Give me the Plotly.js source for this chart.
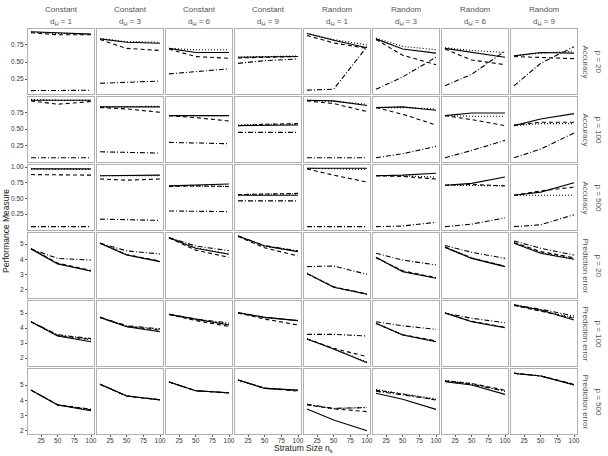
<!DOCTYPE html>
<html><head><meta charset="utf-8">
<script src="https://cdn.plot.ly/plotly-3.0.1.min.js"></script>
<style>html,body{margin:0;padding:0;background:#fff}#chart{width:608px;height:456px}</style>
</head><body><div id="chart"></div>
<script>
// ---- data ----
const nSizes = [10, 50, 100];
const designLabels = ["Constant","Constant","Constant","Constant","Random","Random","Random","Random"];
const dHValues = [1, 3, 6, 9, 1, 3, 6, 9];
const measureLabels = ["Accuracy","Accuracy","Accuracy","Prediction error","Prediction error","Prediction error"];
const pValues = [20, 100, 500, 20, 100, 500];
const xTicks = [25, 50, 75, 100];
const accTicks = [0.25, 0.50, 0.75, 1.00];
const peTicks = [2, 3, 4, 5];

// Accuracy, p = 20 (8 panels x 3 stratum sizes)
const acc20_solid   = [[0.945,0.925,0.91],[0.84,0.79,0.775],[0.70,0.64,0.64],[0.57,0.57,0.58],[0.92,0.82,0.71],[0.84,0.69,0.63],[0.70,0.64,0.57],[0.59,0.64,0.63]];
const acc20_dashed  = [[0.93,0.90,0.90],[0.83,0.70,0.67],[0.69,0.58,0.555],[0.56,0.57,0.58],[0.89,0.78,0.70],[0.83,0.60,0.46],[0.69,0.53,0.46],[0.58,0.57,0.55]];
const acc20_dotted  = [[0.94,0.92,0.91],[0.845,0.80,0.79],[0.70,0.68,0.68],[0.57,0.58,0.59],[0.92,0.83,0.75],[0.85,0.73,0.68],[0.71,0.67,0.64],[0.59,0.63,0.66]];
const acc20_dashdot = [[0.08,0.08,0.085],[0.187,0.205,0.22],[0.325,0.36,0.40],[0.48,0.52,0.545],[0.087,0.10,0.725],[0.10,0.28,0.57],[0.15,0.32,0.66],[0.15,0.48,0.725]];
// Accuracy, p = 100
const acc100_solid   = [[0.93,0.93,0.93],[0.83,0.83,0.83],[0.70,0.70,0.70],[0.55,0.555,0.56],[0.93,0.92,0.85],[0.82,0.83,0.78],[0.70,0.74,0.74],[0.55,0.65,0.73]];
const acc100_dashed  = [[0.92,0.87,0.91],[0.82,0.80,0.75],[0.70,0.67,0.62],[0.55,0.57,0.58],[0.92,0.88,0.76],[0.82,0.72,0.56],[0.70,0.64,0.55],[0.56,0.60,0.60]];
const acc100_dotted  = [[0.94,0.93,0.93],[0.83,0.83,0.84],[0.70,0.70,0.70],[0.56,0.57,0.57],[0.93,0.91,0.87],[0.82,0.82,0.80],[0.70,0.69,0.69],[0.55,0.58,0.58]];
const acc100_dashdot = [[0.07,0.07,0.07],[0.16,0.15,0.14],[0.30,0.29,0.28],[0.45,0.45,0.45],[0.07,0.07,0.07],[0.07,0.13,0.24],[0.07,0.18,0.33],[0.07,0.20,0.44]];
// Accuracy, p = 500
const acc500_solid   = [[0.97,0.97,0.97],[0.86,0.86,0.87],[0.70,0.71,0.73],[0.55,0.55,0.55],[0.98,0.98,0.98],[0.86,0.87,0.90],[0.71,0.74,0.84],[0.55,0.60,0.75]];
const acc500_dashed  = [[0.88,0.88,0.87],[0.81,0.79,0.81],[0.69,0.70,0.69],[0.56,0.57,0.58],[0.97,0.87,0.76],[0.86,0.85,0.81],[0.71,0.72,0.70],[0.55,0.62,0.68]];
const acc500_dotted  = [[0.97,0.97,0.96],[0.86,0.86,0.86],[0.70,0.70,0.69],[0.56,0.57,0.57],[0.98,0.97,0.96],[0.86,0.86,0.84],[0.71,0.71,0.70],[0.55,0.55,0.55]];
const acc500_dashdot = [[0.05,0.05,0.05],[0.17,0.16,0.15],[0.30,0.30,0.29],[0.46,0.46,0.46],[0.05,0.05,0.05],[0.05,0.06,0.12],[0.05,0.09,0.19],[0.05,0.08,0.24]];
// Prediction error, p = 20
const pe20_solid   = [[4.67,3.70,3.24],[5.05,4.28,3.85],[5.41,4.72,4.33],[5.52,4.87,4.50],[3.08,2.17,1.71],[4.13,3.19,2.76],[4.78,4.06,3.52],[5.05,4.39,4.00]];
const pe20_dashed  = [[4.70,3.75,3.27],[5.05,4.30,3.88],[5.40,4.60,4.13],[5.50,4.75,4.22],[3.05,2.20,1.74],[4.10,3.25,2.80],[4.80,4.08,3.55],[5.10,4.50,4.10]];
const pe20_dotted  = [[4.68,3.72,3.22],[5.06,4.32,3.87],[5.42,4.75,4.35],[5.50,4.85,4.52],[3.10,2.18,1.72],[4.12,3.22,2.78],[4.80,4.10,3.55],[5.08,4.45,4.05]];
const pe20_dashdot = [[4.67,4.06,3.95],[5.05,4.55,4.35],[5.42,4.87,4.56],[5.53,4.90,4.55],[3.52,3.56,3.02],[4.39,3.95,3.63],[4.90,4.46,4.06],[5.20,4.72,4.28]];
// Prediction error, p = 100
const pe100_solid   = [[4.42,3.47,3.09],[4.71,4.09,3.75],[4.91,4.58,4.20],[5.02,4.71,4.49],[3.27,2.60,1.69],[4.31,3.53,3.09],[5.00,4.42,4.02],[5.53,5.20,4.53]];
const pe100_dashed  = [[4.42,3.50,3.25],[4.70,4.10,3.85],[4.90,4.50,4.10],[5.00,4.60,4.20],[3.27,2.65,2.09],[4.30,3.55,3.15],[5.00,4.45,4.05],[5.50,5.10,4.65]];
const pe100_dotted  = [[4.42,3.48,3.20],[4.71,4.12,3.90],[4.92,4.55,4.25],[5.02,4.70,4.50],[3.28,2.62,1.75],[4.32,3.55,3.12],[5.00,4.43,4.05],[5.52,5.15,4.70]];
const pe100_dashdot = [[4.42,3.55,3.30],[4.72,4.15,3.95],[4.92,4.60,4.33],[5.02,4.72,4.50],[3.58,3.58,3.47],[4.42,4.15,3.91],[5.00,4.65,4.35],[5.55,5.25,4.80]];
// Prediction error, p = 500
const pe500_solid   = [[4.67,3.69,3.32],[5.05,4.28,4.02],[5.20,4.63,4.50],[5.33,4.78,4.67],[3.43,2.72,2.01],[4.46,4.07,3.41],[5.22,5.00,4.39],[5.76,5.59,5.00]];
const pe500_dashed  = [[4.67,3.72,3.42],[5.05,4.28,4.05],[5.20,4.63,4.48],[5.33,4.80,4.60],[3.70,3.45,3.26],[4.67,4.41,4.02],[5.28,5.10,4.67],[5.78,5.60,5.05]];
const pe500_dotted  = [[4.68,3.70,3.40],[5.06,4.29,4.04],[5.21,4.64,4.50],[5.34,4.79,4.65],[3.72,3.45,3.55],[4.70,4.45,4.10],[5.30,5.10,4.60],[5.77,5.60,5.02]];
const pe500_dashdot = [[4.67,3.70,3.38],[5.05,4.29,4.03],[5.20,4.63,4.49],[5.33,4.79,4.66],[3.74,3.48,3.52],[4.60,4.35,4.05],[5.25,5.05,4.60],[5.77,5.60,5.03]];

// ---- assembly ----
const rowsData = [
  [acc20_solid, acc20_dashed, acc20_dotted, acc20_dashdot],
  [acc100_solid, acc100_dashed, acc100_dotted, acc100_dashdot],
  [acc500_solid, acc500_dashed, acc500_dotted, acc500_dashdot],
  [pe20_solid, pe20_dashed, pe20_dotted, pe20_dashdot],
  [pe100_solid, pe100_dashed, pe100_dotted, pe100_dashdot],
  [pe500_solid, pe500_dashed, pe500_dotted, pe500_dashdot]
];
const dashStyles = ["solid", "4px,3px", "1px,2px", "5px,2px,1px,2px"];
const yRanges = [[0.03,0.985],[0.007,0.978],[-0.003,1.032],[1.47,5.72],[1.47,5.8],[1.8,6.05]];

const W = 608, H = 456;
const x0 = 28, xPitch = 69, pw = 66;
const y0 = 29, yPitch = 68, ph = 65;
const FONT = 'Liberation Sans, Arial, sans-serif';

const traces = [];
const layout = {
  width: W, height: H,
  margin: {l:0, r:0, t:0, b:0},
  paper_bgcolor: '#fff', plot_bgcolor: '#fff',
  showlegend: false,
  font: {family: FONT, color: '#333', size: 8},
  annotations: []
};

const frameColor = '#b0b0b0';
for (let r = 0; r < 6; r++) {
  for (let c = 0; c < 8; c++) {
    const idx = r * 8 + c + 1;
    const xa = 'xaxis' + (idx === 1 ? '' : idx);
    const ya = 'yaxis' + (idx === 1 ? '' : idx);
    const xr = 'x' + (idx === 1 ? '' : idx);
    const yr = 'y' + (idx === 1 ? '' : idx);
    const isAcc = r < 3;
    layout[xa] = {
      domain: [(x0 + xPitch * c) / W, (x0 + xPitch * c + pw) / W],
      anchor: yr, range: [5.5, 104.5],
      showline: true, mirror: true, linecolor: frameColor, linewidth: 1,
      showgrid: false, zeroline: false,
      tickvals: xTicks, ticktext: xTicks.map(String),
      ticks: r === 5 ? 'outside' : '', ticklen: 2, tickcolor: '#333', tickwidth: 0.8,
      showticklabels: r === 5, ticklabelstandoff: -2,
      tickfont: {size: 6.5, color: '#333', family: FONT}
    };
    const top = y0 + yPitch * r;
    const yt = isAcc ? accTicks : peTicks;
    layout[ya] = {
      domain: [1 - (top + ph) / H, 1 - top / H],
      anchor: xr, range: yRanges[r],
      showline: true, mirror: true, linecolor: frameColor, linewidth: 1,
      showgrid: false, zeroline: false,
      tickvals: yt, ticktext: yt.map(v => isAcc ? v.toFixed(2) : String(v)),
      ticks: c === 0 ? 'outside' : '', ticklen: 2, tickcolor: '#333', tickwidth: 0.8,
      showticklabels: c === 0,
      tickfont: {size: 6.5, color: '#333', family: FONT}
    };
    for (let s = 0; s < 4; s++) {
      traces.push({
        type: 'scatter', mode: 'lines',
        x: nSizes, y: rowsData[r][s][c],
        xaxis: xr, yaxis: yr,
        line: {color: '#000', width: 1.1, dash: dashStyles[s]},
        hoverinfo: 'skip'
      });
    }
  }
}

const stripFont = {size: 8, color: '#555', family: FONT};
// column strips
for (let c = 0; c < 8; c++) {
  const cx = (x0 + xPitch * c + pw / 2) / W;
  layout.annotations.push({xref:'paper', yref:'paper', x: cx, y: 1 - 10 / H, text: designLabels[c],
    showarrow:false, xanchor:'center', yanchor:'middle', font: stripFont});
  layout.annotations.push({xref:'paper', yref:'paper', x: cx, y: 1 - 22 / H, text: 'd<sub>H</sub> = ' + dHValues[c],
    showarrow:false, xanchor:'center', yanchor:'middle', font: stripFont});
}
// row strips
for (let r = 0; r < 6; r++) {
  const cy = 1 - (y0 + yPitch * r + ph / 2) / H;
  layout.annotations.push({xref:'paper', yref:'paper', x: 585 / W, y: cy, text: measureLabels[r], textangle: 90,
    showarrow:false, xanchor:'center', yanchor:'middle', font: stripFont});
  layout.annotations.push({xref:'paper', yref:'paper', x: 598 / W, y: cy, text: 'p = ' + pValues[r], textangle: 90,
    showarrow:false, xanchor:'center', yanchor:'middle', font: stripFont});
}
// axis titles
layout.annotations.push({xref:'paper', yref:'paper', x: 6 / W, y: 1 - 231 / H, text: 'Performance Measure', textangle: -90,
  showarrow:false, xanchor:'center', yanchor:'middle', font:{size:8.5, color:'#222', family: FONT}});
layout.annotations.push({xref:'paper', yref:'paper', x: 303 / W, y: 1 - 448 / H, text: 'Stratum Size n<sub>k</sub>',
  showarrow:false, xanchor:'center', yanchor:'middle', font:{size:8.5, color:'#222', family: FONT}});

Plotly.newPlot('chart', traces, layout, {staticPlot: true, displayModeBar: false});
</script></body></html>
